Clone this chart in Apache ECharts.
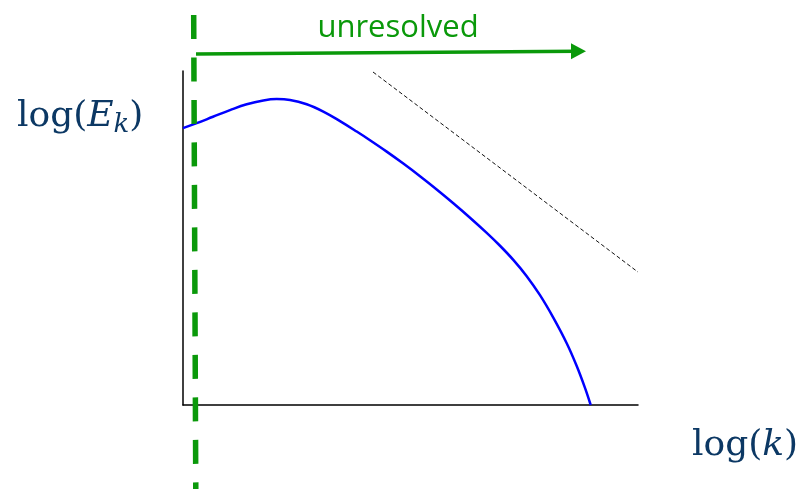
<!DOCTYPE html>
<html>
<head>
<meta charset="utf-8">
<script src="https://cdn.jsdelivr.net/npm/echarts@6/dist/echarts.min.js"></script>
<style>
  html, body { margin: 0; padding: 0; background: #ffffff; }
  #chart { width: 808px; height: 489px; }
</style>
</head>
<body>
<div id="chart"></div>
<script>
// Sketch of a turbulent energy spectrum: log(E_k) against log(k), arbitrary units.
const logK = [0.0, 0.301, 0.659, 1.033, 1.400, 1.765, 2.059, 2.352, 2.719, 3.084, 3.451, 3.818,
  4.110, 4.477, 4.842, 5.209, 5.576, 5.941, 6.308, 6.675, 6.967, 7.259, 7.554, 7.846,
  8.138, 8.433, 8.653, 8.835, 8.960];
const logE = [8.29, 8.437, 8.630, 8.830, 9.005, 9.118, 9.158, 9.132, 9.004, 8.785, 8.499, 8.187,
  7.927, 7.586, 7.228, 6.850, 6.454, 6.041, 5.608, 5.153, 4.768, 4.345, 3.858, 3.289,
  2.617, 1.850, 1.168, 0.513, 0.0];

// Power-law reference slope (thin dashed line)
const slopeK = [4.176, 10.0];
const slopeE = [9.97, 3.98];

// Grid cutoff wavenumber (thick dashed green line)
const cutoffK = [0.235, 0.281];
const cutoffE = [11.68, -2.52];

// Arrow spanning the unresolved scales
const arrowK = [0.286, 8.692];
const arrowE = [10.51, 10.59];

const arrowLabel = 'unresolved';

const navy = '#0c3864';
const green = '#0a990a';

const pairs = (xs, ys) => xs.map((x, i) => [x, ys[i]]);

const chart = echarts.init(document.getElementById('chart'), null, { renderer: 'canvas' });

chart.setOption({
  animation: false,
  backgroundColor: '#ffffff',
  grid: { left: 183, top: 71, width: 455, height: 334, containLabel: false },
  xAxis: {
    type: 'value', min: 0, max: 10,
    axisLine: { show: true, onZero: false, lineStyle: { color: '#000000', width: 1.5 } },
    axisTick: { show: false }, axisLabel: { show: false }, splitLine: { show: false }
  },
  yAxis: {
    type: 'value', min: 0, max: 10,
    axisLine: { show: true, onZero: false, lineStyle: { color: '#000000', width: 1.5 } },
    axisTick: { show: false }, axisLabel: { show: false }, splitLine: { show: false }
  },
  series: [
    {
      name: 'spectrum', type: 'line', data: pairs(logK, logE),
      smooth: 0.4, showSymbol: false, clip: false,
      lineStyle: { color: '#0000ff', width: 2.5 }
    },
    {
      name: 'slope', type: 'line', data: pairs(slopeK, slopeE),
      showSymbol: false, clip: false,
      lineStyle: { color: '#111111', width: 1, type: [4, 2.5] }
    },
    {
      name: 'cutoff', type: 'line', data: pairs(cutoffK, cutoffE),
      showSymbol: false, clip: false,
      lineStyle: { color: green, width: 5.5, type: [24, 18.5] }
    },
    {
      name: 'arrow', type: 'line', clip: false, showSymbol: true,
      data: [
        { value: [arrowK[0], arrowE[0]], symbol: 'none' },
        { value: [arrowK[1], arrowE[1]], symbol: 'triangle', symbolSize: [16, 15], symbolRotate: -90 }
      ],
      itemStyle: { color: green },
      lineStyle: { color: green, width: 3.5 }
    }
  ],
  graphic: [
    {
      type: 'text', x: 398, y: 28, silent: true,
      style: {
        text: arrowLabel, fill: green, fontFamily: 'Open Sans', fontSize: 31,
        align: 'center', verticalAlign: 'middle'
      }
    },
    {
      type: 'text', x: 17, y: 94.6, silent: true,
      style: {
        text: '{r|log(}{i|E}{s|k}{r|)}',
        verticalAlign: 'top', align: 'left',
        rich: {
          r: { fill: navy, fontFamily: 'DejaVu Serif', fontSize: 36, lineHeight: 44 },
          i: { fill: navy, fontFamily: 'DejaVu Serif', fontStyle: 'italic', fontSize: 36, lineHeight: 44 },
          s: { fill: navy, fontFamily: 'DejaVu Serif', fontStyle: 'italic', fontSize: 26, lineHeight: 22, verticalAlign: 'bottom' }
        }
      }
    },
    {
      type: 'text', x: 692, y: 424, silent: true,
      style: {
        text: '{r|log(}{i|k}{r|)}',
        verticalAlign: 'top', align: 'left',
        rich: {
          r: { fill: navy, fontFamily: 'DejaVu Serif', fontSize: 36, lineHeight: 44 },
          i: { fill: navy, fontFamily: 'DejaVu Serif', fontStyle: 'italic', fontSize: 36, lineHeight: 44 }
        }
      }
    }
  ]
});
</script>
</body>
</html>
